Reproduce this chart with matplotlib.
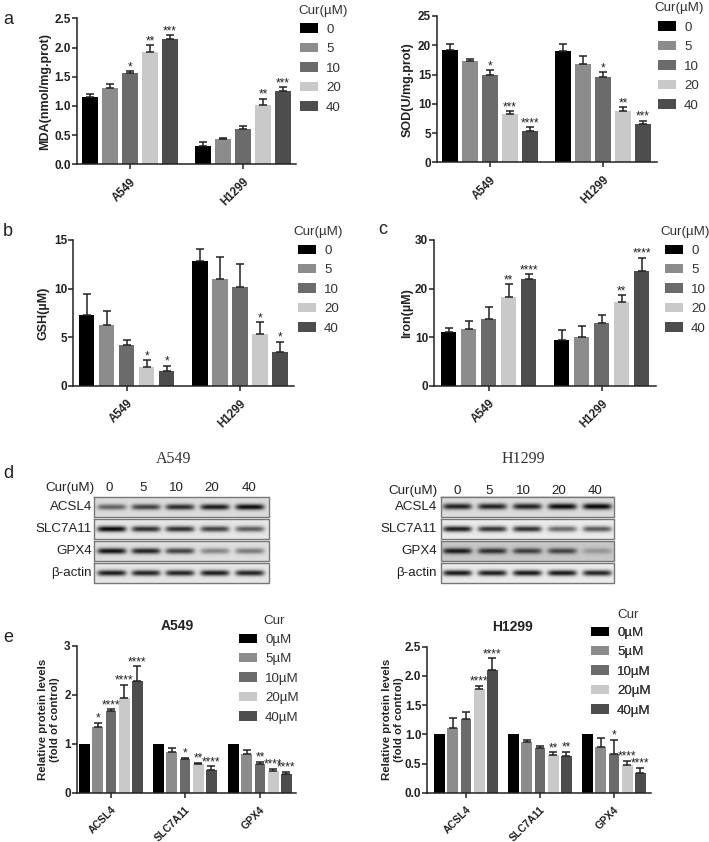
import matplotlib
matplotlib.use("Agg")
import matplotlib.pyplot as plt
import numpy as np

plt.rcParams['font.family'] = ['Liberation Sans', 'DejaVu Sans']
W, H = 709, 842

colors = ["#000000", "#8c8c8c", "#6b6b6b", "#c9c9c9", "#4d4d4d"]
doses = ["0", "5", "10", "20", "40"]
doses_um = ["0µM", "5µM", "10µM", "20µM", "40µM"]
cells = ["A549", "H1299"]
proteins = ["ACSL4", "SLC7A11", "GPX4"]

mda = [[1.16, 1.31, 1.57, 1.92, 2.14], [0.31, 0.43, 0.61, 1.01, 1.25]]
mda_top = [[1.21, 1.38, 1.59, 2.04, 2.21], [0.38, 0.45, 0.66, 1.12, 1.32]]
mda_stars = [["", "", "*", "**", "***"], ["", "", "", "**", "***"]]

sod = [[19.2, 17.3, 14.9, 8.2, 5.4], [19.0, 16.8, 14.5, 8.8, 6.5]]
sod_top = [[20.3, 17.7, 15.7, 8.7, 6.0], [20.2, 18.1, 15.4, 9.4, 7.1]]
sod_stars = [["", "", "*", "***", "****"], ["", "", "*", "**", "***"]]

gsh = [[7.3, 6.2, 4.2, 1.9, 1.55], [12.8, 11.0, 10.2, 5.3, 3.5]]
gsh_top = [[9.4, 7.7, 4.75, 2.6, 2.05], [14.1, 13.2, 12.5, 6.55, 4.5]]
gsh_stars = [["", "", "", "*", "*"], ["", "", "", "*", "*"]]

iron = [[11.0, 11.6, 13.7, 18.3, 21.9], [9.5, 10.1, 12.9, 17.2, 23.7]]
iron_top = [[11.9, 13.3, 16.2, 20.9, 22.9], [11.4, 12.3, 14.6, 18.6, 26.3]]
iron_stars = [["", "", "", "**", "****"], ["", "", "", "**", "****"]]

prot_a = [[1, 1.34, 1.67, 1.93, 2.29], [1, 0.83, 0.69, 0.58, 0.47], [1, 0.80, 0.59, 0.45, 0.38]]
prot_a_top = [[1, 1.43, 1.71, 2.21, 2.59], [1, 0.91, 0.71, 0.61, 0.54], [1, 0.87, 0.63, 0.49, 0.43]]
prot_a_stars = [["", "*", "****", "****", "****"], ["", "", "*", "**", "****"], ["", "", "**", "****", "****"]]

prot_h = [[1, 1.10, 1.26, 1.77, 2.10], [1, 0.87, 0.76, 0.65, 0.63], [1, 0.79, 0.67, 0.47, 0.33]]
prot_h_top = [[1, 1.28, 1.39, 1.83, 2.30], [1, 0.90, 0.80, 0.69, 0.70], [1, 0.94, 0.91, 0.55, 0.43]]
prot_h_stars = [["", "", "", "****", "****"], ["", "", "", "**", "**"], ["", "", "*", "****", "****"]]

blot_rows = ["ACSL4", "SLC7A11", "GPX4", "β-actin"]
# band darkness per lane, read by eye
blot_a = [[0.55, 0.70, 0.80, 0.88, 0.95],
          [0.97, 0.80, 0.80, 0.72, 0.60],
          [0.92, 0.85, 0.72, 0.40, 0.45],
          [0.88, 0.85, 0.85, 0.88, 0.85]]
blot_h = [[0.85, 0.85, 0.85, 0.95, 0.97],
          [0.88, 0.78, 0.80, 0.55, 0.62],
          [0.88, 0.78, 0.70, 0.68, 0.25],
          [0.90, 0.88, 0.90, 0.90, 0.85]]
blot_a_bg = [0.86, 0.90, 0.87, 0.90]
blot_h_bg = [0.86, 0.92, 0.78, 0.92]

fig = plt.figure(figsize=(W / 100, H / 100), dpi=100)
over = fig.add_axes([0, 0, 1, 1], zorder=5)
over.patch.set_alpha(0)


def bar_panel(box, ymax, ticks, ticklabels, centers, step, width, means, tops, stars, names, ylabel, label_x, leg, title_xy, legend_names, title, tsize=9, xsize=8.3):
    l, t, r, b = box
    ax = fig.add_axes([l / W, 1 - b / H, (r - l) / W, (b - t) / H])
    handles = []
    for g, c in enumerate(centers):
        for i in range(5):
            x = c + (i - 2) * step
            bars = ax.bar(x, means[g][i], width, color=colors[i], linewidth=0)
            if g == 0:
                handles.append(bars[0])
            if tops[g][i] > means[g][i]:
                ax.errorbar(x, means[g][i], yerr=[[0], [tops[g][i] - means[g][i]]], color="#222222", capsize=2.6, elinewidth=1.1, capthick=1.1)
            if stars[g][i]:
                ax.annotate(stars[g][i], (x, tops[g][i]), xytext=(0, 0.8), textcoords="offset points", ha="center", va="baseline", fontsize=8.5, color="#222222", annotation_clip=False)
    ax.set_xlim(l, r)
    ax.set_ylim(0, ymax)
    ax.set_yticks(ticks)
    ax.set_yticklabels(ticklabels, fontweight="bold", fontsize=8.5, color="#222222")
    ax.set_xticks(centers)
    ax.set_xticklabels(names, rotation=45, ha="right", va="top", rotation_mode="anchor", fontweight="bold", fontsize=xsize, color="#222222")
    ax.tick_params(axis="both", length=3.5, width=1.1, pad=0.8, color="#222222")
    ax.tick_params(axis="x", pad=5)
    for s in ["top", "right"]:
        ax.spines[s].set_visible(False)
    for s in ["left", "bottom"]:
        ax.spines[s].set_linewidth(1.1)
        ax.spines[s].set_color("#222222")
    ax.set_ylabel(ylabel, fontweight="bold", fontsize=tsize, color="#222222", linespacing=1.3)
    ax.yaxis.set_label_coords((label_x - l) / (r - l), 0.5)
    lg = over.legend(handles, legend_names, frameon=False, loc="upper left", bbox_to_anchor=leg, bbox_transform=over.transData,
                     fontsize=9.6, handlelength=1.36, handleheight=0.72, handletextpad=0.6, labelspacing=0.53, borderpad=0, borderaxespad=0)
    for tx in lg.get_texts():
        tx.set_color("#333333")
    over.add_artist(lg)
    over.text(title_xy[0], title_xy[1], title, fontsize=9.6, color="#333333", ha="left", va="center")
    return ax


def blot(img_box, rows_y, lanes, darkness, bg, sigma):
    x0, x1 = img_box
    for r, (y0, y1) in enumerate(rows_y):
        xs = np.linspace(x0, x1, 180)
        ys = np.linspace(y0, y1, 30)
        img = np.full((30, 180), bg[r])
        for lane, d in zip(lanes, darkness[r]):
            shape_x = np.exp(-((xs - lane) / 14.5) ** 6)
            shape_y = np.exp(-((ys - (y0 + y1) / 2) / sigma) ** 2)
            img = img - d * bg[r] * np.outer(shape_y, shape_x)
        over.imshow(np.clip(img, 0, 1), extent=[x0, x1, y1, y0], aspect="auto", cmap="gray", vmin=0, vmax=1, zorder=1, interpolation="bilinear")
        over.plot([x0, x1, x1, x0, x0], [y0, y0, y1, y1, y0], color="#777777", lw=1, zorder=2)


y_ticks_a = [0, 0.5, 1.0, 1.5, 2.0, 2.5]
bar_panel((77, 18.3, 296, 164.3), 2.5, y_ticks_a, ["0.0", "0.5", "1.0", "1.5", "2.0", "2.5"], [130, 243], 20, 15.4, mda, mda_top, mda_stars, cells,
          "MDA(nmol/mg.prot)", 51.5, (300, 23.5), (298, 11), doses, "Cur(µM)")
bar_panel((437, 16, 657, 162.3), 25, [0, 5, 10, 15, 20, 25], ["0", "5", "10", "15", "20", "25"], [490, 603], 20, 15.4, sod, sod_top, sod_stars, cells,
          "SOD(U/mg.prot)", 414, (658, 21.5), (654, 8), doses, "Cur(µM)")
bar_panel((73, 240, 294, 385.7), 15, [0, 5, 10, 15], ["0", "5", "10", "15"], [126.7, 240], 20, 15.4, gsh, gsh_top, gsh_stars, cells,
          "GSH(µM)", 50, (298, 244.5), (293, 232), doses, "Cur(µM)")
bar_panel((434, 240, 656, 385.7), 30, [0, 10, 20, 30], ["0", "10", "20", "30"], [488.7, 601.8], 20, 15.4, iron, iron_top, iron_stars, cells,
          "Iron(µM)", 413, (665, 244.5), (660, 232), doses, "Cur(µM)")
bar_panel((76.7, 646, 296, 792.7), 3, [0, 1, 2, 3], ["0", "1", "2", "3"], [111, 185, 260], 13.2, 10.7, prot_a, prot_a_top, prot_a_stars, proteins,
          "Relative protein levels\n(fold of control)", 60, (239, 633.5), (263, 621), doses_um, "Cur", tsize=8.2, xsize=7.5)
bar_panel((427.3, 646.7, 650.7, 792.7), 2.5, y_ticks_a, ["0.0", "0.5", "1.0", "1.5", "2.0", "2.5"], [466, 540, 614], 13.2, 10.7, prot_h, prot_h_top, prot_h_stars, proteins,
          "Relative protein levels\n(fold of control)", 404, (591, 626.5), (617, 615), doses_um, "Cur", tsize=8.2, xsize=7.5)

rows_a = [(497.3, 517.3), (519.3, 539.3), (541.3, 561.3), (563.3, 583.3)]
rows_h = [(496.7, 516.7), (519.3, 539.3), (540.7, 560.7), (563.3, 583.3)]
blot((94.3, 268.7), rows_a, [111.7, 146, 180, 215, 250], blot_a, blot_a_bg, 3.0)
blot((440.7, 614), rows_h, [456.7, 491.7, 526.7, 561.7, 596.7], blot_h, blot_h_bg, 3.0)

over.set_xlim(0, W)
over.set_ylim(H, 0)
over.axis("off")

for (x, y, s) in [(174, 459, "A549"), (523, 459, "H1299")]:
    over.text(x, y, s, family="Liberation Serif", fontsize=11.5, color="#333333", ha="center", va="center")

blot_sets = [(94.6, 487.7, [109, 143, 176, 212, 249], rows_a, 92), (437.7, 490.7, [456.7, 489.5, 523.5, 559, 595.5], rows_h, 437)]
for right, y, xs, rows, row_x in blot_sets:
    over.text(right, y, "Cur(uM)", fontsize=9.6, color="#222222", ha="right", va="center")
    for x, d in zip(xs, doses):
        over.text(x, y, d, fontsize=9.6, color="#222222", ha="center", va="center")
    for (y0, y1), name in zip(rows, blot_rows):
        over.text(row_x, (y0 + y1) / 2, name, fontsize=9.6, color="#222222", ha="right", va="center")

for x, y, s in [(3, 20, "a"), (3, 232, "b"), (378, 230, "c"), (3, 473, "d"), (3, 638, "e")]:
    over.text(x, y, s, fontsize=13, color="#222222", ha="left", va="center")

over.text(177, 626, "A549", fontsize=10, fontweight="bold", color="#222222", ha="center", va="center")
over.text(512.7, 627, "H1299", fontsize=10, fontweight="bold", color="#222222", ha="center", va="center")

fig.savefig("out.png", dpi=100)
